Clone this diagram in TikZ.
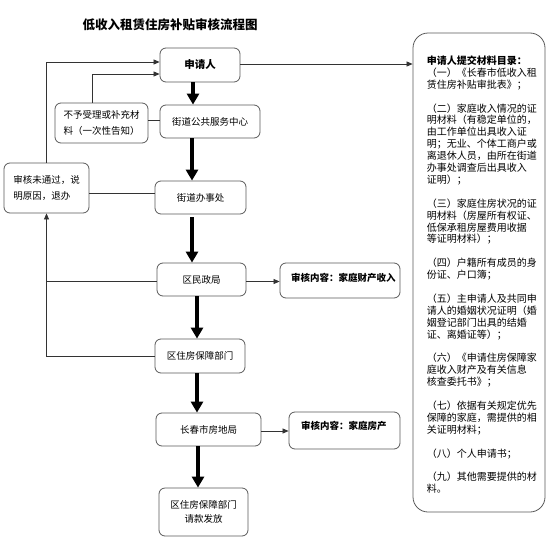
\documentclass[tikz,border=0pt]{standalone}
\usepackage{fontspec}
\newfontfamily\cjk{Noto Sans CJK SC}
\usetikzlibrary{arrows.meta}
\tikzset{
  flowbox/.style={draw=black!65, line width=0.8pt, rounded corners=6pt, align=center,
    inner sep=0pt, font=\cjk\fontsize{9.5}{16}\selectfont},
  notebox/.style={flowbox, align=left, font=\cjk\bfseries\fontsize{9.5}{16}\selectfont},
  link/.style={draw=black!80, line width=0.7pt},
  linkarr/.style={link, -{Triangle[length=6pt,width=5pt]}},
  bigarr/.style={line width=3.5pt, -{Triangle[length=11pt,width=12pt]}},
}
\begin{document}
\begin{tikzpicture}[x=1pt,y=-1pt]
  \useasboundingbox (0,0) rectangle (553,554);

  \node[font=\cjk\bfseries\fontsize{12.5}{14}\selectfont] (title) at (170,25) {低收入租赁住房补贴审核流程图};

  \node[flowbox, minimum width=80pt, minimum height=34pt, font=\cjk\bfseries\fontsize{10.5}{14}\selectfont] (app) at (200,65) {申请人};
  \node[flowbox, minimum width=100pt, minimum height=33pt] (svc) at (210,121.5) {街道公共服务中心};
  \node[flowbox, align=left, minimum width=93pt, minimum height=40pt] (rej) at (101.5,123) {不予受理或补充材\\料（一次性告知）};
  \node[flowbox, align=left, minimum width=85pt, minimum height=50pt] (ret) at (46.5,188) {审核未通过，说\\明原因，退办};
  \node[flowbox, minimum width=91pt, minimum height=33pt] (off) at (200.5,197.5) {街道办事处};
  \node[flowbox, minimum width=89pt, minimum height=33pt] (civ) at (201.5,279.5) {区民政局};
  \node[flowbox, minimum width=90pt, minimum height=34pt] (hsg) at (200,356) {区住房保障部门};
  \node[flowbox, minimum width=105pt, minimum height=33pt] (bur) at (208.5,429.5) {长春市房地局};
  \node[flowbox, minimum width=89pt, minimum height=48pt, font=\cjk\fontsize{9.5}{14}\selectfont] (pay) at (203.5,512) {区住房保障部门\\请款发放};

  \node[notebox, minimum width=120pt, minimum height=35pt] (chk1) at (340,280.5) {};
  \node[font=\cjk\bfseries\fontsize{9.5}{12}\selectfont, anchor=west] at ([xshift=8pt,yshift=3pt]chk1.west) {审核内容：家庭财产收入};
  \node[notebox, minimum width=111pt, minimum height=37pt] (chk2) at (344.5,430.5) {};
  \node[font=\cjk\bfseries\fontsize{9.5}{12}\selectfont, anchor=west] at ([xshift=9pt,yshift=5pt]chk2.west) {审核内容：家庭房产};

  \node[draw=black!65, line width=0.8pt, rounded corners=15pt, minimum width=132pt, minimum height=479pt] (list) at (479,272.5) {};
  \node[anchor=north west, inner sep=0pt, align=left, font=\cjk\fontsize{10}{11.9}\selectfont] (items)
    at ([xshift=14pt,yshift=-23pt]list.north west)
    {\textbf{申请人提交材料目录：}\\
     （一）《长春市低收入租\\
     赁住房补贴审批表》；\\[11.9pt]
     （二）家庭收入情况的证\\
     明材料（有稳定单位的，\\
     由工作单位出具收入证\\
     明；无业、个体工商户或\\
     离退休人员，由所在街道\\
     办事处调查后出具收入\\
     证明）；\\[11.9pt]
     （三）家庭住房状况的证\\
     明材料（房屋所有权证、\\
     低保承租房屋费用收据\\
     等证明材料）；\\[11.9pt]
     （四）户籍所有成员的身\\
     份证、户口簿；\\[11.9pt]
     （五）主申请人及共同申\\
     请人的婚姻状况证明（婚\\
     姻登记部门出具的结婚\\
     证、离婚证等）；\\[11.9pt]
     （六）《申请住房保障家\\
     庭收入财产及有关信息\\
     核查委托书》；\\[11.9pt]
     （七）依据有关规定优先\\
     保障的家庭，需提供的相\\
     关证明材料；\\[11.9pt]
     （八）个人申请书；\\[11.9pt]
     （九）其他需要提供的材\\
     料。};

  \draw[bigarr] ([xshift=-7pt]app.south) -- ([xshift=-7pt]app.south |- svc.north);
  \draw[bigarr] ([xshift=-18pt]svc.south) -- ([xshift=-18pt]svc.south |- off.north);
  \draw[bigarr] ([xshift=-8.5pt,yshift=-3pt]off.south) -- ([xshift=-8.5pt]off.south |- civ.north);
  \draw[bigarr] ([xshift=-4.5pt]civ.south) -- ([xshift=-4.5pt]civ.south |- hsg.north);
  \draw[bigarr] ([xshift=-3pt]hsg.south) -- ([xshift=-3pt]hsg.south |- bur.north);
  \draw[bigarr] ([xshift=-10.5pt]bur.south) -- ([xshift=-10.5pt]bur.south |- pay.north);

  \draw[linkarr] ([yshift=1pt]app.east) -- ([yshift=1pt]app.east -| list.west);
  \draw[link] ([yshift=3pt]rej.east) -- ([yshift=3pt]rej.east -| svc.west);
  \draw[linkarr] ([xshift=-9.5pt]rej.north) |- ([yshift=-9pt]app.west);
  \draw[linkarr] (ret.north) |- ([yshift=3pt]app.west);
  \draw[link] ([yshift=-5pt]ret.east) -- ([yshift=-5pt]ret.east -| off.west);
  \draw[link] ([yshift=-2pt]civ.west) -- ([yshift=-2pt]civ.west -| ret.south);
  \draw[linkarr] (hsg.west) -| (ret.south);
  \draw[linkarr] ([yshift=-2pt]civ.east) -- ([yshift=-2pt]civ.east -| chk1.west);
  \draw[linkarr] ([yshift=-1.5pt]bur.east) -- ([yshift=-1.5pt]bur.east -| chk2.west);
\end{tikzpicture}
\end{document}
